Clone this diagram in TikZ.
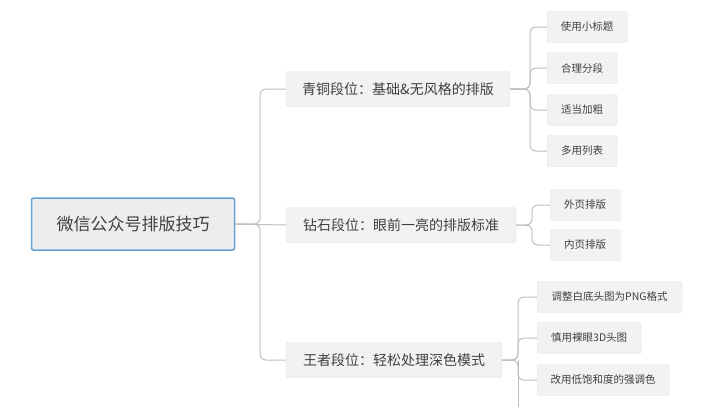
\documentclass[tikz,border=0pt]{standalone}
\usepackage{fontspec}
\setmainfont{Noto Sans CJK SC}
\begin{document}
\begin{tikzpicture}[x=1pt,y=-1pt,
  box/.style={draw=black!12,fill=black!5,rounded corners=2pt,inner sep=0pt,text=black!75},
  root/.style={box,draw=blue!45!cyan!70!black!60,line width=1.5pt,fill=black!7,minimum width=203pt,minimum height=52pt,font=\fontsize{17}{20}\selectfont},
  br/.style={box,minimum height=35pt,font=\fontsize{14}{17}\selectfont},
  leaf/.style={box,minimum height=31pt,font=\fontsize{10.5}{13}\selectfont},
  con/.style={draw=black!25,line width=1pt,rounded corners=6pt}]
\useasboundingbox (0,0) rectangle (720,407);
\node[root] (r) at (133,224) {微信公众号排版技巧};
\node[br,minimum width=224pt] (b1) at (398,89) {青铜段位：基础\&无风格的排版};
\node[br,minimum width=230pt] (b2) at (401,225) {钻石段位：眼前一亮的排版标准};
\node[br,minimum width=216pt] (b3) at (394,360) {王者段位：轻松处理深色模式};
\node[leaf,minimum width=80pt,anchor=west] (a1) at (547,27) {使用小标题};
\node[leaf,minimum width=70pt,anchor=west] (a2) at (547,68) {合理分段};
\node[leaf,minimum width=70pt,anchor=west] (a3) at (547,110) {适当加粗};
\node[leaf,minimum width=70pt,anchor=west] (a4) at (547,151) {多用列表};
\node[leaf,minimum width=70pt,anchor=west] (c1) at (550,205) {外页排版};
\node[leaf,minimum width=70pt,anchor=west] (c2) at (550,245) {内页排版};
\node[leaf,minimum width=145pt,anchor=west] (d1) at (537,297) {调整白底头图为PNG格式};
\node[leaf,minimum width=104pt,anchor=west] (d2) at (537,338) {慎用裸眼3D头图};
\node[leaf,minimum width=132pt,anchor=west] (d3) at (537,380) {改用低饱和度的强调色};
\coordinate (dend) at (518,407);
% root
\draw[con] (r.east) -- (b2.west);
\draw[con] (r.east) -- (260,224) |- (b1.west);
\draw[con] (r.east) -- (260,224) |- (b3.west);
% bronze
\draw[con] (b1.east) -- (530,89) |- (a1.west);
\draw[con] (b1.east) -- (530,89) |- (a2.west);
\draw[con] (b1.east) -- (530,89) |- (a3.west);
\draw[con] (b1.east) -- (530,89) |- (a4.west);
% diamond
\draw[con] (b2.east) -- (532,225) |- (c1.west);
\draw[con] (b2.east) -- (532,225) |- (c2.west);
% king
\draw[con] (b3.east) -- (518,360) |- (d1.west);
\draw[con] (b3.east) -- (518,360) |- (d2.west);
\draw[con] (b3.east) -- (518,360) |- (d3.west);
\draw[con] (518,360) -- (dend);
\end{tikzpicture}
\end{document}
